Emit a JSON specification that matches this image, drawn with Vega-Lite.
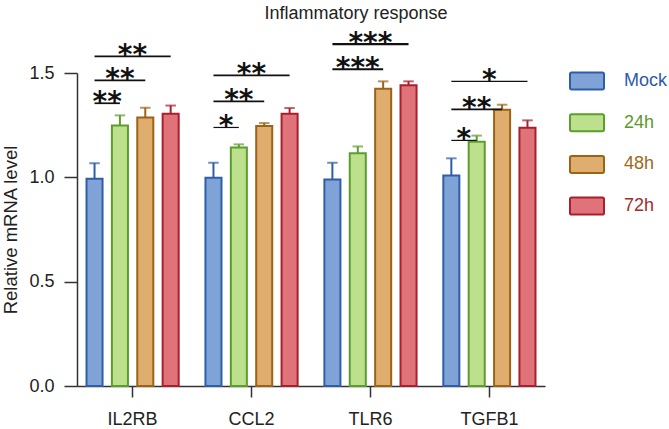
{
  "$schema": "https://vega.github.io/schema/vega-lite/v6.json",
  "autosize": {"type": "none"},
  "padding": {"left": 77, "top": 73, "right": 124, "bottom": 43},
  "width": 468,
  "height": 313,
  "background": "white",
  "title": {"text": "Inflammatory response", "font": "Liberation Sans", "fontSize": 18, "fontWeight": "normal", "color": "#222", "anchor": "middle", "frame": "group", "dx": 45, "offset": 7},
  "config": {
    "view": {"stroke": null},
    "axis": {"grid": false, "domainColor": "#333", "domainWidth": 1.5, "tickColor": "#333", "tickWidth": 1.5, "labelFont": "Liberation Sans", "labelFontSize": 18, "labelColor": "#222", "titleFont": "Liberation Sans", "titleFontSize": 18.5, "titleFontWeight": "normal", "titleColor": "#222"}
  },
  "datasets": {
    "expr": [
      {"gene": "IL2RB", "group": "Mock", "mean": 0.993, "upper": 1.068},
      {"gene": "IL2RB", "group": "24h", "mean": 1.249, "upper": 1.297},
      {"gene": "IL2RB", "group": "48h", "mean": 1.287, "upper": 1.334},
      {"gene": "IL2RB", "group": "72h", "mean": 1.305, "upper": 1.344},
      {"gene": "CCL2", "group": "Mock", "mean": 0.998, "upper": 1.070},
      {"gene": "CCL2", "group": "24h", "mean": 1.143, "upper": 1.158},
      {"gene": "CCL2", "group": "48h", "mean": 1.246, "upper": 1.260},
      {"gene": "CCL2", "group": "72h", "mean": 1.305, "upper": 1.332},
      {"gene": "TLR6", "group": "Mock", "mean": 0.990, "upper": 1.070},
      {"gene": "TLR6", "group": "24h", "mean": 1.116, "upper": 1.148},
      {"gene": "TLR6", "group": "48h", "mean": 1.425, "upper": 1.460},
      {"gene": "TLR6", "group": "72h", "mean": 1.441, "upper": 1.460},
      {"gene": "TGFB1", "group": "Mock", "mean": 1.009, "upper": 1.091},
      {"gene": "TGFB1", "group": "24h", "mean": 1.171, "upper": 1.200},
      {"gene": "TGFB1", "group": "48h", "mean": 1.324, "upper": 1.348},
      {"gene": "TGFB1", "group": "72h", "mean": 1.238, "upper": 1.273}
    ],
    "sig": [
      {"gene": "IL2RB", "from": "Mock", "to": "24h", "level": 1.355, "sig": "**"},
      {"gene": "IL2RB", "from": "Mock", "to": "48h", "level": 1.465, "sig": "**"},
      {"gene": "IL2RB", "from": "Mock", "to": "72h", "level": 1.580, "sig": "**"},
      {"gene": "CCL2", "from": "Mock", "to": "24h", "level": 1.239, "sig": "*"},
      {"gene": "CCL2", "from": "Mock", "to": "48h", "level": 1.364, "sig": "**"},
      {"gene": "CCL2", "from": "Mock", "to": "72h", "level": 1.489, "sig": "**"},
      {"gene": "TLR6", "from": "Mock", "to": "48h", "level": 1.518, "sig": "***"},
      {"gene": "TLR6", "from": "Mock", "to": "72h", "level": 1.638, "sig": "***"},
      {"gene": "TGFB1", "from": "Mock", "to": "24h", "level": 1.177, "sig": "*"},
      {"gene": "TGFB1", "from": "Mock", "to": "48h", "level": 1.326, "sig": "**"},
      {"gene": "TGFB1", "from": "Mock", "to": "72h", "level": 1.460, "sig": "*"}
    ]
  },
  "layer": [
    {
      "data": {"name": "expr"},
      "mark": {"type": "rule", "strokeWidth": 2},
      "encoding": {
        "x": {"field": "gene", "type": "nominal", "sort": ["IL2RB", "CCL2", "TLR6", "TGFB1"], "title": null, "scale": {"paddingInner": 0.225, "paddingOuter": 0.08}, "axis": {"labelAngle": 0, "tickSize": 11, "labelPadding": 13}},
        "xOffset": {"field": "group", "type": "nominal", "scale": {"domain": ["Mock", "24h", "48h", "72h"], "paddingInner": 0.368, "paddingOuter": 0}},
        "y": {"field": "mean", "type": "quantitative", "title": "Relative mRNA level", "scale": {"domain": [0, 1.5], "nice": false, "zero": true}, "axis": {"values": [0, 0.5, 1.0, 1.5], "format": ".1f", "tickSize": 13, "labelPadding": 10, "titlePadding": 8}},
        "y2": {"field": "upper"},
        "stroke": {"field": "group", "type": "nominal", "scale": {"domain": ["Mock", "24h", "48h", "72h"], "range": ["#2f5ea8", "#5b9e2d", "#9c6316", "#a8202d"]}, "title": null}
      }
    },
    {
      "data": {"name": "expr"},
      "mark": {"type": "tick", "orient": "horizontal", "size": 9, "thickness": 0.5, "filled": false, "strokeWidth": 1.5},
      "encoding": {
        "x": {"field": "gene", "type": "nominal", "sort": ["IL2RB", "CCL2", "TLR6", "TGFB1"], "title": null},
        "xOffset": {"field": "group", "type": "nominal", "scale": {"domain": ["Mock", "24h", "48h", "72h"]}},
        "y": {"field": "upper", "type": "quantitative", "title": "Relative mRNA level"},
        "stroke": {"field": "group", "type": "nominal", "title": null}
      }
    },
    {
      "data": {"name": "expr"},
      "mark": {"type": "bar", "strokeWidth": 2, "fillOpacity": 1},
      "encoding": {
        "x": {"field": "gene", "type": "nominal", "sort": ["IL2RB", "CCL2", "TLR6", "TGFB1"], "title": null},
        "xOffset": {"field": "group", "type": "nominal", "scale": {"domain": ["Mock", "24h", "48h", "72h"]}},
        "y": {"field": "mean", "type": "quantitative", "title": "Relative mRNA level"},
        "fill": {"field": "group", "type": "nominal", "title": null, "scale": {"domain": ["Mock", "24h", "48h", "72h"], "range": ["#7fa3d7", "#bde08c", "#dfae6e", "#e0737a"]},
          "legend": {"orient": "none", "legendX": 492, "legendY": -10, "padding": 0, "symbolType": "M-0.9,-0.5H0.9Q1,-0.5 1,-0.4V0.4Q1,0.5 0.9,0.5H-0.9Q-1,0.5 -1,0.4V-0.4Q-1,-0.5 -0.9,-0.5Z", "symbolSize": 1156, "symbolStrokeWidth": 2, "symbolOpacity": 1, "labelFont": "Liberation Sans", "labelFontSize": 18, "labelOffset": 19, "rowPadding": 10.7, "encode": {"labels": {"update": {"fill": {"signal": "datum.value === 'Mock' ? '#2e5aa5' : datum.value === '24h' ? '#5a9a2a' : datum.value === '48h' ? '#9a6a20' : '#a52a2a'"}}}}}},
        "stroke": {"field": "group", "type": "nominal", "title": null}
      }
    },
    {
      "data": {"name": "sig"},
      "transform": [{"fold": ["from", "to"], "as": ["end", "grp"]}],
      "mark": {"type": "line", "color": "#111"},
      "encoding": {
        "x": {"field": "gene", "type": "nominal", "sort": ["IL2RB", "CCL2", "TLR6", "TGFB1"], "title": null},
        "xOffset": {"field": "grp", "type": "nominal", "scale": {"domain": ["Mock", "24h", "48h", "72h"]}},
        "y": {"field": "level", "type": "quantitative", "title": "Relative mRNA level"},
        "detail": [{"field": "gene", "type": "nominal"}, {"field": "to", "type": "nominal"}],
        "strokeWidth": {"field": "sig", "type": "ordinal", "scale": {"domain": ["*", "**", "***"], "range": [1.2, 2.2, 3.2]}, "legend": null}
      }
    },
    {
      "data": {"name": "sig"},
      "transform": [{"filter": "datum.to === '24h'"}],
      "mark": {"type": "text", "font": "DejaVu Sans", "fontWeight": "bold", "fontSize": 28, "color": "#111", "baseline": "alphabetic", "dy": 8, "dx": 12.6},
      "encoding": {
        "x": {"field": "gene", "type": "nominal", "sort": ["IL2RB", "CCL2", "TLR6", "TGFB1"], "title": null},
        "xOffset": {"datum": "Mock"},
        "y": {"field": "level", "type": "quantitative", "title": "Relative mRNA level"},
        "text": {"field": "sig"}
      }
    },
    {
      "data": {"name": "sig"},
      "transform": [{"filter": "datum.to === '48h'"}],
      "mark": {"type": "text", "font": "DejaVu Sans", "fontWeight": "bold", "fontSize": 28, "color": "#111", "baseline": "alphabetic", "dy": 8},
      "encoding": {
        "x": {"field": "gene", "type": "nominal", "sort": ["IL2RB", "CCL2", "TLR6", "TGFB1"], "title": null},
        "xOffset": {"datum": "24h"},
        "y": {"field": "level", "type": "quantitative", "title": "Relative mRNA level"},
        "text": {"field": "sig"}
      }
    },
    {
      "data": {"name": "sig"},
      "transform": [{"filter": "datum.to === '72h'"}],
      "mark": {"type": "text", "font": "DejaVu Sans", "fontWeight": "bold", "fontSize": 28, "color": "#111", "baseline": "alphabetic", "dy": 8, "dx": 12.6},
      "encoding": {
        "x": {"field": "gene", "type": "nominal", "sort": ["IL2RB", "CCL2", "TLR6", "TGFB1"], "title": null},
        "xOffset": {"datum": "24h"},
        "y": {"field": "level", "type": "quantitative", "title": "Relative mRNA level"},
        "text": {"field": "sig"}
      }
    }
  ]
}
